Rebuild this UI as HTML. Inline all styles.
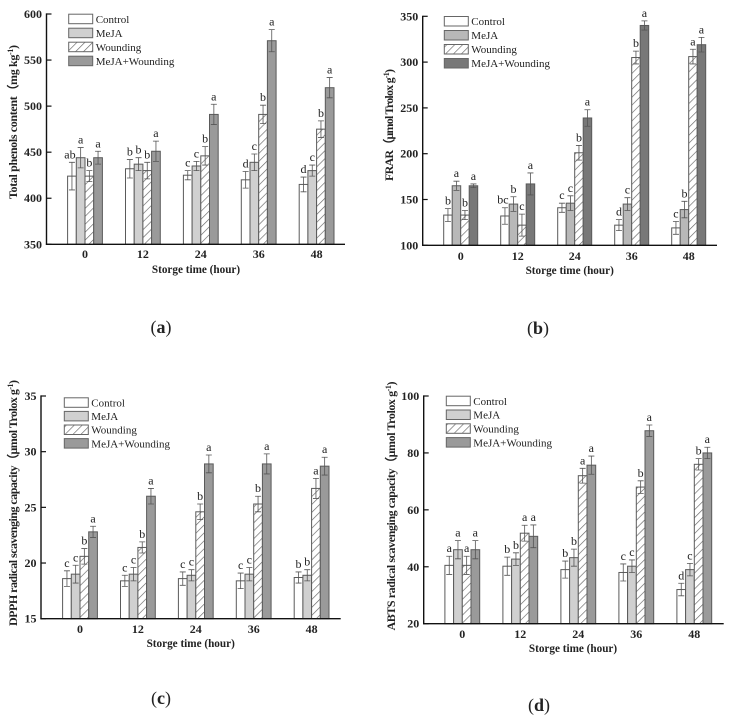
<!DOCTYPE html>
<html lang="en">
<head>
<meta charset="utf-8">
<title>Storage time bar charts</title>
<style>
html,body{margin:0;padding:0;background:#fff;width:729px;height:717px;overflow:hidden}
svg{display:block}
text{font-family:"Liberation Serif",serif;fill:#222}
.tick,.xtitle,.ytitle{font-weight:bold}
</style>
</head>
<body>
<svg id="figure" xmlns="http://www.w3.org/2000/svg" width="729" height="717" viewBox="0 0 729 717">
<defs>
<pattern id="hatch" width="5.6" height="5.6" patternUnits="userSpaceOnUse" patternTransform="rotate(45)">
<rect width="5.6" height="5.6" fill="#fff"></rect>
<line x1="0" y1="0" x2="0" y2="5.6" stroke="#666" stroke-width="1.3"></line>
</pattern>
</defs>
</svg>
<script>
const categories = ['0', '12', '24', '36', '48'];
const seriesNames = ['Control', 'MeJA', 'Wounding', 'MeJA+Wounding'];

const aTicks = [350, 400, 450, 500, 550, 600];
const aControl = [424, 432, 425, 420, 415];
const aMeja = [444, 437, 435, 439, 430];
const aWounding = [424, 430, 446, 491, 475];
const aMix = [444, 451, 491, 571, 520];
const aControlErr = [15, 10, 5, 9, 8];
const aMejaErr = [11, 7, 5, 9, 6];
const aWoundingErr = [6, 9, 10, 10, 9];
const aMixErr = [7, 11, 11, 12, 11];
const aControlSig = ['ab', 'b', 'c', 'd', 'd'];
const aMejaSig = ['a', 'b', 'c', 'c', 'c'];
const aWoundingSig = ['b', 'b', 'b', 'b', 'b'];
const aMixSig = ['a', 'a', 'a', 'a', 'a'];

const bTicks = [100, 150, 200, 250, 300, 350];
const bControl = [133, 132, 141, 122, 119];
const bMeja = [165, 145, 146, 145, 139];
const bWounding = [133, 122, 201, 305, 306];
const bMix = [165, 167, 239, 340, 319];
const bControlErr = [7, 9, 5, 6, 7];
const bMejaErr = [5, 8, 8, 7, 9];
const bWoundingErr = [5, 12, 8, 7, 8];
const bMixErr = [2, 12, 9, 5, 8];
const bControlSig = ['b', 'bc', 'c', 'd', 'c'];
const bMejaSig = ['a', 'b', 'c', 'c', 'b'];
const bWoundingSig = ['b', 'c', 'b', 'b', 'a'];
const bMixSig = ['a', 'a', 'a', 'a', 'a'];

const cTicks = [15, 20, 25, 30, 35];
const cControl = [18.6, 18.4, 18.6, 18.4, 18.7];
const cMeja = [19, 19, 18.9, 19, 18.9];
const cWounding = [20.6, 21.4, 24.6, 25.3, 26.7];
const cMix = [22.8, 26, 28.9, 28.9, 28.7];
const cControlErr = [0.7, 0.5, 0.6, 0.7, 0.5];
const cMejaErr = [0.8, 0.6, 0.5, 0.6, 0.5];
const cWoundingErr = [0.7, 0.5, 0.7, 0.7, 0.9];
const cMixErr = [0.5, 0.7, 0.8, 0.9, 0.8];
const cControlSig = ['c', 'c', 'c', 'c', 'b'];
const cMejaSig = ['c', 'c', 'c', 'c', 'b'];
const cWoundingSig = ['b', 'b', 'b', 'b', 'a'];
const cMixSig = ['a', 'a', 'a', 'a', 'a'];

const dTicks = [20, 40, 60, 80, 100];
const dControl = [40.5, 40.2, 39, 38, 32];
const dMeja = [46, 42.7, 43.2, 40.2, 39];
const dWounding = [40.5, 51.8, 72, 68, 76];
const dMix = [46, 50.7, 75.7, 87.8, 80];
const dControlErr = [3.2, 3.2, 3, 3, 2.2];
const dMejaErr = [3.2, 2.2, 3, 2.2, 2.2];
const dWoundingErr = [3.2, 2.8, 2.6, 2.2, 2];
const dMixErr = [3.2, 4, 3.2, 2, 2];
const dControlSig = ['a', 'b', 'b', 'c', 'd'];
const dMejaSig = ['a', 'b', 'b', 'c', 'c'];
const dWoundingSig = ['a', 'a', 'a', 'b', 'b'];
const dMixSig = ['a', 'a', 'a', 'a', 'a'];

const NS = 'http://www.w3.org/2000/svg';
const fig = document.getElementById('figure');

function make(parent, tag, attrs, txt) {
  const n = document.createElementNS(NS, tag);
  for (const k in attrs) n.setAttribute(k, attrs[k]);
  if (txt !== undefined) n.textContent = txt;
  parent.appendChild(n);
  return n;
}

function drawPanel(p) {
  const g = make(fig, 'g', {});
  
  

  const lo = p.ticks[0], hi = p.ticks[p.ticks.length - 1];
  const yScale = v => p.bottom - (v - lo) / (hi - lo) * (p.bottom - p.top);
  const xScale = i => p.x0 + i * p.step;
  const fills = ['#fff', p.mejaFill, 'url(#hatch)', p.mixFill];

  // y axis and ticks
  const yAxis = make(g, 'line', {x1: p.left, x2: p.left, y1: p.top - 0.6, y2: p.bottom + 0.6, stroke: '#111', 'stroke-width': 1.4});
  
  
  p.ticks.forEach(t => {
    const tm = make(g, 'line', {x1: p.left, x2: p.left + 5, y1: yScale(t), y2: yScale(t), stroke: '#111', 'stroke-width': 1.2});
    
    
    const tl = make(g, 'text', {class: 'tick', x: p.left - 4.5, y: yScale(t) + 4, 'text-anchor': 'end', 'font-size': 12}, String(t));
    
    
  });

  // bars, error bars, significance letters
  p.values.forEach((vals, s) => {
    vals.forEach((v, i) => {
      const cx = xScale(i) + (s - 1.5) * p.barW;
      const y = yScale(v);
      const bar = make(g, 'rect', {x: cx - p.barW / 2, y: y, width: p.barW, height: p.bottom - y, fill: fills[s], stroke: '#5a5a5a', 'stroke-width': 1});
      
      

      const yTop = yScale(v + p.errors[s][i]);
      const yBot = yScale(v - p.errors[s][i]);
      const eb = make(g, 'path', {d: 'M' + (cx - 3) + ' ' + yTop + 'H' + (cx + 3) + 'M' + cx + ' ' + yTop + 'V' + yBot + 'M' + (cx - 3) + ' ' + yBot + 'H' + (cx + 3), fill: 'none', stroke: '#555', 'stroke-width': 0.8});
      
      

      const sig = make(g, 'text', {x: cx - (p.sig[s][i].length > 1 ? 2 : 0), y: yTop - 4, 'text-anchor': 'middle', 'font-size': 12, fill: '#333'}, p.sig[s][i]);
      
      
    });
  });

  // x axis drawn above the bars
  const xAxis = make(g, 'line', {x1: p.left - 0.6, x2: p.right, y1: p.bottom, y2: p.bottom, stroke: '#111', 'stroke-width': 1.4});
  
  
  categories.forEach((c, i) => {
    const xl = make(g, 'text', {class: 'tick', x: xScale(i), y: p.xLabelY, 'text-anchor': 'middle', 'font-size': 12}, c);
    
    
  });

  const xt = make(g, 'text', {class: 'xtitle', x: p.xTitleX, y: p.xTitleY, 'text-anchor': 'middle', 'font-size': 11.2}, 'Storge time (hour)');
  
  

  // y axis title
  const yt = make(g, 'text', {class: 'ytitle', transform: 'translate(' + p.yTitleX + ' ' + p.yTitleY + ') rotate(-90)', 'text-anchor': 'middle', 'font-size': 12, textLength: p.yTitleLen, lengthAdjust: 'spacing'});
  
  
  make(yt, 'tspan', {}, p.yTitle);
  make(yt, 'tspan', {dy: -4, 'font-size': 8}, '-1');
  make(yt, 'tspan', {dy: 4}, ')');

  // legend
  seriesNames.forEach((name, s) => {
    const ly = p.legendY + s * p.legendStep;
    const sw = make(g, 'rect', {x: p.legendX, y: ly, width: 24, height: 9.5, fill: fills[s], stroke: '#666', 'stroke-width': 1});
    
    
    const lt = make(g, 'text', {x: p.legendX + 27, y: ly + 8.7, 'font-size': 11, fill: '#333'}, name);
    
    
  });

  // panel caption
  const cap = make(g, 'text', {x: p.capX, y: p.capY, 'text-anchor': 'middle', 'font-size': 18});
  
  
  make(cap, 'tspan', {}, '(');
  make(cap, 'tspan', {'font-weight': 'bold'}, p.id);
  make(cap, 'tspan', {}, ')');
}

drawPanel({
  id: 'a', ticks: aTicks,
  values: [aControl, aMeja, aWounding, aMix],
  errors: [aControlErr, aMejaErr, aWoundingErr, aMixErr],
  sig: [aControlSig, aMejaSig, aWoundingSig, aMixSig],
  left: 46.5, right: 345, top: 14, bottom: 244.3, x0: 85, step: 57.9, barW: 8.7,
  mejaFill: '#d0d0d0', mixFill: '#9a9a9a',
  xLabelY: 258, xTitleX: 196, xTitleY: 273,
  yTitle: 'Total phenols content\uFF08mg kg', yTitleX: 17, yTitleY: 122, yTitleLen: 154,
  legendX: 68.7, legendY: 14.2, legendStep: 14,
  capX: 161, capY: 333
});
drawPanel({
  id: 'b', ticks: bTicks,
  values: [bControl, bMeja, bWounding, bMix],
  errors: [bControlErr, bMejaErr, bWoundingErr, bMixErr],
  sig: [bControlSig, bMejaSig, bWoundingSig, bMixSig],
  left: 422.7, right: 717, top: 16.3, bottom: 245.3, x0: 460.7, step: 57, barW: 8.5,
  mejaFill: '#b8b8b8', mixFill: '#787878',
  xLabelY: 260, xTitleX: 569.7, xTitleY: 274,
  yTitle: 'FRAR\uFF08\u03BCmol Trolox g', yTitleX: 393, yTitleY: 125, yTitleLen: 112,
  legendX: 444.3, legendY: 16.5, legendStep: 14,
  capX: 538, capY: 334
});
drawPanel({
  id: 'c', ticks: cTicks,
  values: [cControl, cMeja, cWounding, cMix],
  errors: [cControlErr, cMejaErr, cWoundingErr, cMixErr],
  sig: [cControlSig, cMejaSig, cWoundingSig, cMixSig],
  left: 41, right: 340.7, top: 396, bottom: 618.7, x0: 80, step: 57.9, barW: 8.7,
  mejaFill: '#d0d0d0', mixFill: '#9a9a9a',
  xLabelY: 633, xTitleX: 190.7, xTitleY: 647,
  yTitle: 'DPPH radical scavenging capacity\uFF08\u03BCmol Trolox g', yTitleX: 17, yTitleY: 503, yTitleLen: 246,
  legendX: 64.3, legendY: 397.8, legendStep: 13.6,
  capX: 161, capY: 704
});
drawPanel({
  id: 'd', ticks: dTicks,
  values: [dControl, dMeja, dWounding, dMix],
  errors: [dControlErr, dMejaErr, dWoundingErr, dMixErr],
  sig: [dControlSig, dMejaSig, dWoundingSig, dMixSig],
  left: 423.7, right: 723.7, top: 396, bottom: 623.7, x0: 462.3, step: 58, barW: 8.7,
  mejaFill: '#d0d0d0', mixFill: '#9a9a9a',
  xLabelY: 638, xTitleX: 573, xTitleY: 652,
  yTitle: 'ABTS radical scavenging capacity\uFF08\u03BCmol Trolox g', yTitleX: 395, yTitleY: 506, yTitleLen: 249,
  legendX: 446.3, legendY: 396.2, legendStep: 13.8,
  capX: 539, capY: 711
});
</script>
</body>
</html>
